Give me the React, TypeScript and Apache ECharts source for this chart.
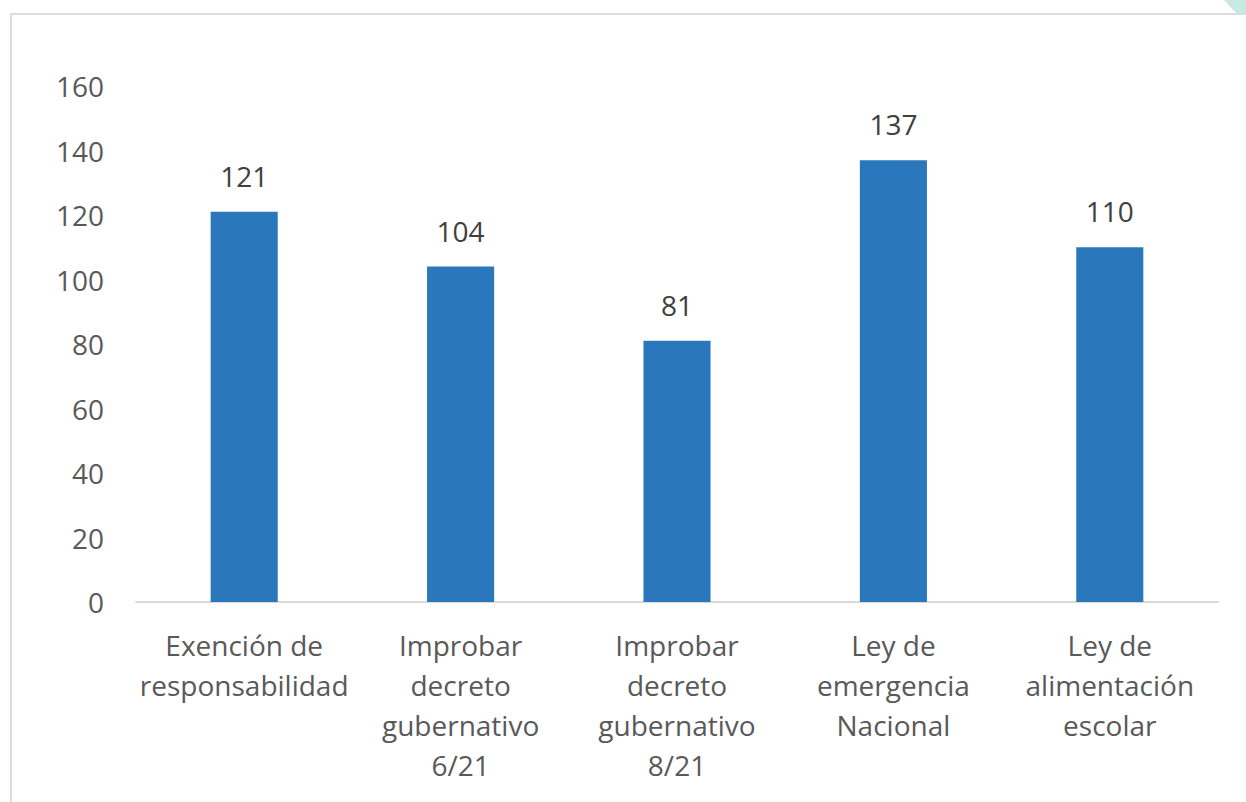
import React, { useEffect, useRef } from "react";
import * as echarts from "echarts";

const categories = [
  "Exención de\nresponsabilidad",
  "Improbar\ndecreto\ngubernativo\n6/21",
  "Improbar\ndecreto\ngubernativo\n8/21",
  "Ley de\nemergencia\nNacional",
  "Ley de\nalimentación\nescolar",
];
const values = [121, 104, 81, 137, 110];

export default function App() {
  const ref = useRef<HTMLDivElement>(null);
  useEffect(() => {
    document.body.style.margin = "0";
    const chart = echarts.init(ref.current!, null, { renderer: "svg" });
    const font = "'Open Sans', sans-serif";
    chart.setOption({
      animation: false,
      backgroundColor: "#ffffff",
      grid: { left: 136, right: 28, top: 86, bottom: 200, containLabel: false },
      xAxis: {
        type: "category",
        data: categories,
        axisLine: { lineStyle: { color: "#d9d9d9", width: 2 } },
        axisTick: { show: false },
        axisLabel: {
          color: "#595959",
          fontSize: 28,
          fontFamily: font,
          lineHeight: 40,
          margin: 23,
          interval: 0,
        },
      },
      yAxis: {
        type: "value",
        min: 0,
        max: 160,
        interval: 20,
        splitLine: { show: false },
        axisLine: { show: false },
        axisTick: { show: false },
        axisLabel: {
          color: "#595959",
          fontSize: 28,
          fontFamily: font,
          margin: 32,
        },
      },
      series: [
        {
          type: "bar",
          data: values,
          barWidth: "31%",
          itemStyle: { color: "#2a78bb" },
          label: {
            show: true,
            position: "top",
            distance: 22,
            color: "#404040",
            fontSize: 28,
            fontFamily: font,
          },
        },
      ],
      graphic: [
        {
          type: "rect",
          shape: { x: 11, y: 14, width: 1300, height: 900 },
          style: { fill: "none", stroke: "#dcdcdc", lineWidth: 2 },
          silent: true,
        },
        {
          type: "polygon",
          shape: { points: [[1224, 0], [1246, 0], [1246, 14], [1237, 14]] },
          style: { fill: "#c6e9e1" },
          silent: true,
        },
      ],
    });
    return () => chart.dispose();
  }, []);
  return <div ref={ref} style={{ width: 1246, height: 802 }} />;
}
